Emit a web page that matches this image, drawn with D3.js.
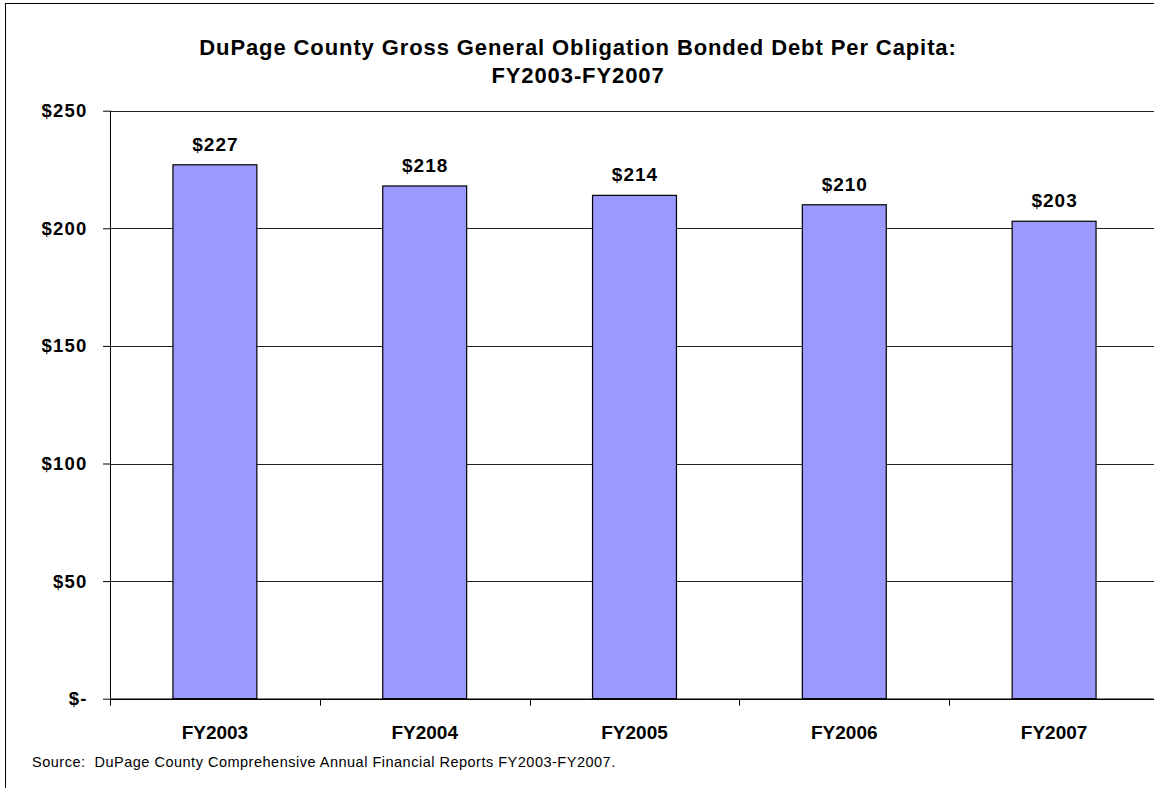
<!DOCTYPE html>
<html><head><meta charset="utf-8">
<script src="https://cdn.jsdelivr.net/npm/d3@7"></script>
<style>body{margin:0;background:#fff;} text{font-family:"Liberation Sans",Arial,sans-serif;}</style>
</head><body>
<svg id="c" width="1154" height="788"></svg>
<script>
const categories = ["FY2003","FY2004","FY2005","FY2006","FY2007"];
const values = [227, 218, 214, 210, 203];
const yTicks = [0, 50, 100, 150, 200, 250];
const yTickLabels = ["$-", "$50", "$100", "$150", "$200", "$250"];
const titleLines = ["DuPage County Gross General Obligation Bonded Debt Per Capita:", "FY2003-FY2007"];
const sourceText = "Source:\u00a0\u00a0DuPage County Comprehensive Annual Financial Reports FY2003-FY2007.";

const svg = d3.select("#c");
const L = 110, R = 1159, T = 110.7, B = 698.7;

svg.append("rect").attr("x",5.5).attr("y",3.5).attr("width",1160).attr("height",800)
  .attr("fill","none").attr("stroke","#000").attr("stroke-width",1);

const x = d3.scaleBand().domain(categories).range([L,R]).paddingInner(0.6).paddingOuter(0.3);
const y = d3.scaleLinear().domain([0,250]).range([B,T]);

// gridlines
svg.append("g").selectAll("line").data(yTicks.filter(d=>d>0)).join("line")
  .attr("x1",L).attr("x2",1154).attr("y1",d=>Math.round(y(d))+0.5).attr("y2",d=>Math.round(y(d))+0.5)
  .attr("stroke","#222").attr("stroke-width",1);

// bars
svg.append("g").selectAll("rect").data(values).join("rect")
  .attr("x",(d,i)=>x(categories[i])).attr("width",x.bandwidth())
  .attr("y",d=>y(d)).attr("height",d=>y(0)-y(d))
  .attr("fill","#9999ff").attr("stroke","#000").attr("stroke-width",1.2);

// value labels
svg.append("g").selectAll("text").data(values).join("text")
  .attr("x",(d,i)=>x(categories[i])+x.bandwidth()/2+0.5).attr("y",d=>y(d)-14)
  .attr("text-anchor","middle").attr("font-weight","bold").attr("font-size",19)
  .attr("letter-spacing",1.0)
  .text(d=>"$"+d);

// y axis
const yAxis = d3.axisLeft(y).tickValues(yTicks).tickFormat((d,i)=>yTickLabels[i]).tickSize(7).tickPadding(15.5);
const gy = svg.append("g").attr("transform",`translate(${L},0)`).call(yAxis);
gy.select(".domain").attr("stroke","#000").attr("d",`M0.5,${T}V${B}`);
gy.selectAll(".tick line").attr("stroke","#000");
gy.selectAll(".tick text").attr("font-size",18.5).attr("font-weight","bold").attr("fill","#000")
  .attr("letter-spacing",1.2)
  .attr("font-family","Liberation Sans, Arial, sans-serif");

// x axis
const step = x.step();
const boundaries = d3.range(categories.length+1).map(i=>L+i*step);
svg.append("line").attr("x1",L).attr("x2",1154).attr("y1",B+0.5).attr("y2",B+0.5).attr("stroke","#000").attr("stroke-width",1.5);
svg.append("g").selectAll("line").data(boundaries).join("line")
  .attr("x1",d=>Math.round(d)+0.5).attr("x2",d=>Math.round(d)+0.5).attr("y1",B).attr("y2",B+7).attr("stroke","#000");
svg.append("g").selectAll("text").data(categories).join("text")
  .attr("x",d=>x(d)+x.bandwidth()/2).attr("y",739)
  .attr("text-anchor","middle").attr("font-weight","bold").attr("font-size",19).text(d=>d);

// title
svg.append("g").selectAll("text").data(titleLines).join("text")
  .attr("x",578).attr("y",(d,i)=>55+i*28).attr("text-anchor","middle")
  .attr("font-weight","bold").attr("font-size",22).attr("letter-spacing",0.9).text(d=>d);

// source
svg.append("text").attr("x",32).attr("y",767).attr("font-size",14.5).attr("letter-spacing",0.5).text(sourceText);
</script>
</body></html>
